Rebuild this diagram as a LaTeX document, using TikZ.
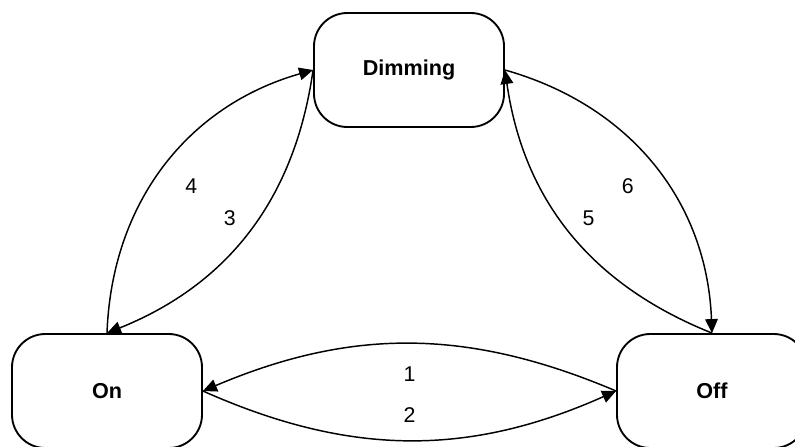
\documentclass[tikz,border=0pt]{standalone}
\usepackage{fontspec}
\setmainfont{Liberation Sans}
\usetikzlibrary{positioning, arrows.meta}

\begin{document}
\begin{tikzpicture}[
		x=0.75pt, y=-0.75pt,
		>={Triangle[length=10.5pt, width=9.5pt]},
		state/.style={draw, line width=1.4pt, rounded corners=25pt, minimum width=142.5pt, minimum height=85.5pt, font=\fontsize{16.2}{19}\selectfont\bfseries},
		trans/.style={->, line width=1.1pt},
		num/.style={font=\fontsize{16}{19}\selectfont}
		]
		
		\useasboundingbox (0,0) rectangle (795,446);
		
		% --- the three states ---
		\node[state] (dimming) at (409,70) {Dimming};
		\node[state] (on) at (107,391) {On};
		\node[state] (off) at (712,391) {Off};
		
		% --- On <-> Off ---
		\draw[trans] (off.west) to[bend right=23] node[num, midway, yshift=-22.5pt] {1} (on.east);
		\draw[trans] (on.east) to[bend right=24] node[num, midway, yshift=19pt] {2} (off.west);
		
		% --- On <-> Dimming ---
		\draw[trans] (dimming.west) to[bend left=30] node[num, midway, xshift=-14pt, yshift=10.5pt] {3} (on.north);
		\draw[trans] (on.north) to[bend left=36] node[num, midway, xshift=20pt, yshift=-15pt] {4} (dimming.west);
		
		% --- Off <-> Dimming ---
		\draw[trans] (off.north) to[bend left=30] node[num, midway, xshift=14pt, yshift=10.5pt] {5} (dimming.east);
		\draw[trans] (dimming.east) to[bend left=36] node[num, midway, xshift=-19.5pt, yshift=-15pt] {6} (off.north);
		
	\end{tikzpicture}
\end{document}
